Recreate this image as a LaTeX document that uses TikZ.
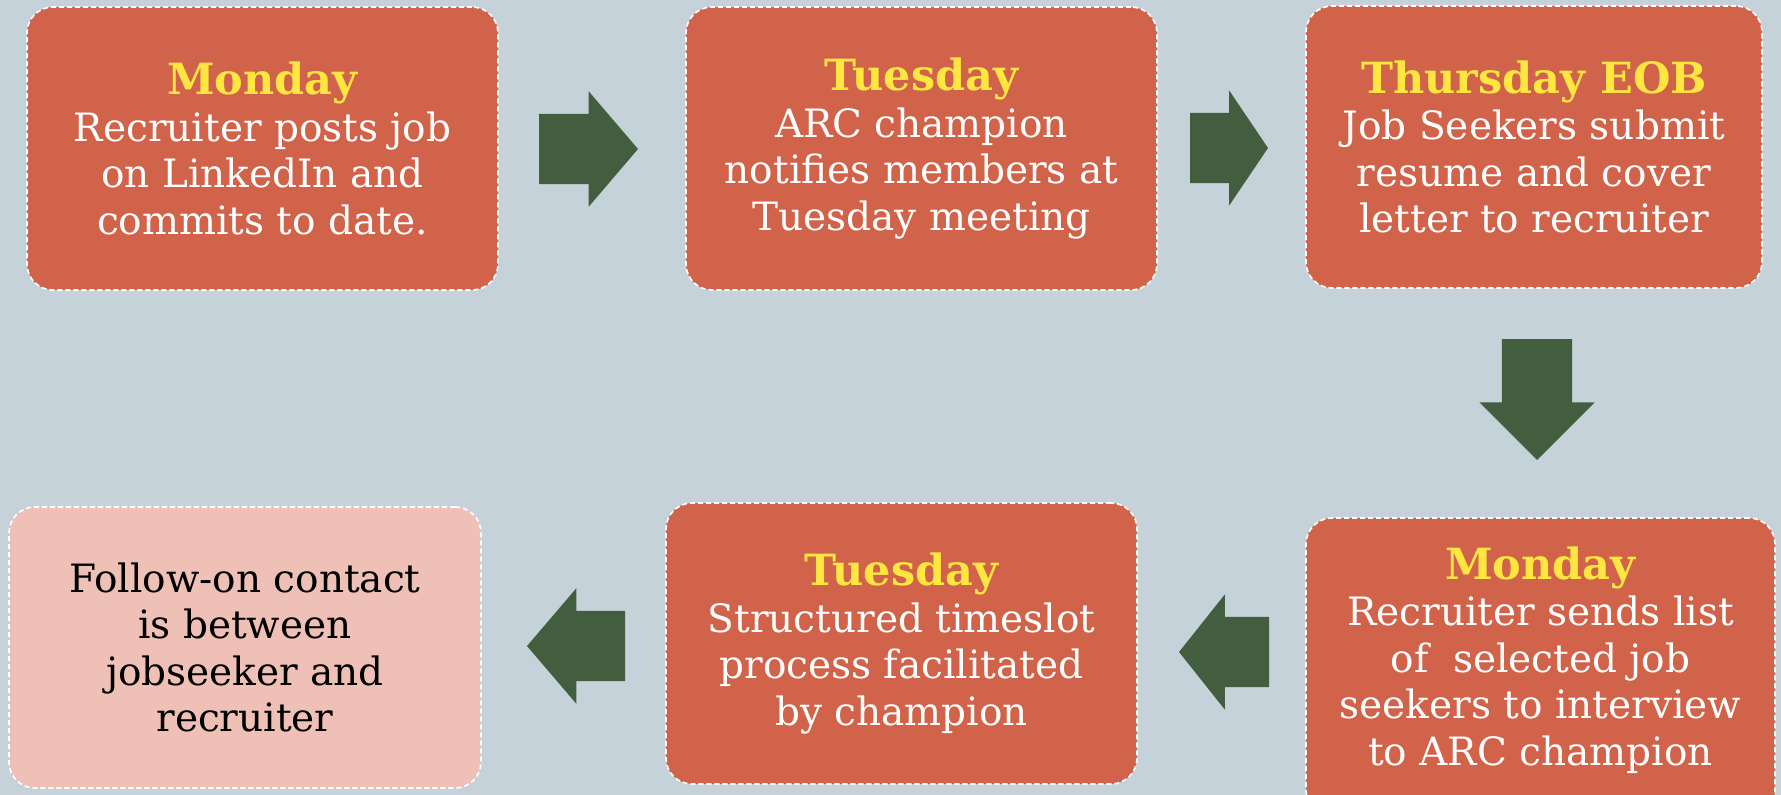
\documentclass[tikz,border=0pt]{standalone}
\usepackage{fontspec}
\setmainfont{DejaVu Serif}
\usetikzlibrary{shapes.arrows}

\definecolor{bgblue}{RGB}{198,210,217}
\definecolor{boxred}{RGB}{208,99,74}
\definecolor{boxpink}{RGB}{238,192,182}
\definecolor{arrowgreen}{RGB}{67,94,63}
\definecolor{dayyellow}{RGB}{255,230,64}

\begin{document}
\begin{tikzpicture}[%
    x=1pt, y=-1pt,
    day/.style={
      rectangle,
      draw=white,
      line width=1.6pt,
      dash pattern=on 5pt off 3pt,
      fill=boxred,
      text=white,
      align=center,
      rounded corners=26pt,
      minimum width=471pt,
      minimum height=283pt,
      font=\fontsize{39}{46.5}\selectfont
    },
    last/.style={
      day,
      fill=boxpink,
      text=black
    },
    go/.style={
      single arrow,
      fill=arrowgreen,
      inner xsep=0pt,
      inner ysep=35pt,
      outer sep=0pt,
      single arrow head extend=22.5pt,
      anchor=tail
    }
  ]
    \useasboundingbox (0,0) rectangle (1781,795);
    \fill[bgblue] (0,0) rectangle (1781,795);

    \draw (262.5,148.5) node[day] (mon1) {
    {\bfseries\color{dayyellow}\fontsize{43}{46.5}\selectfont Monday}\\
    Recruiter posts job\\ on LinkedIn and\\ commits to date.};
    \draw (921.5,148.5) node[day] (tue1) {
    {\bfseries\color{dayyellow}\fontsize{43}{46.5}\selectfont Tuesday}\\
    ARC champion\\ notifies members at\\ Tuesday meeting};
    \draw (1534,147) node[day, minimum width=456pt, minimum height=282pt] (thu) {
    {\bfseries\color{dayyellow}\fontsize{43}{46.5}\selectfont Thursday EOB}\\
    Job Seekers submit\\ resume and cover\\ letter to recruiter};
    \draw (1540.5,667) node[day, minimum width=469pt, minimum height=298pt, text depth=22pt] (mon2) {
    {\bfseries\color{dayyellow}\fontsize{43}{46.5}\selectfont Monday}\\
    Recruiter sends list\\ of \ selected job\\ seekers to interview\\ to ARC champion};
    \draw (901.5,643.5) node[day, minimum height=281pt] (tue2) {
    {\bfseries\color{dayyellow}\fontsize{43}{46.5}\selectfont Tuesday}\\
    Structured timeslot\\ process facilitated\\ by champion};
    \draw (245,647.5) node[last, minimum width=472pt, minimum height=281pt] (follow) {
    Follow-on contact\\ is between\\ jobseeker and\\ recruiter};

    \node[go, minimum height=99pt, single arrow tip angle=99] (a1) at (539,149) {};
    \node[go, minimum height=78pt, single arrow tip angle=112] (a2) at (1190,148) {};
    \node[go, rotate=-90, minimum height=121pt, single arrow tip angle=90] (a3) at (1537,339) {};
    \node[go, rotate=180, minimum height=90pt, single arrow tip angle=103] (a4) at (1269,652) {};
    \node[go, rotate=180, minimum height=98pt, single arrow tip angle=99] (a5) at (625,646) {};

  \end{tikzpicture}
\end{document}
